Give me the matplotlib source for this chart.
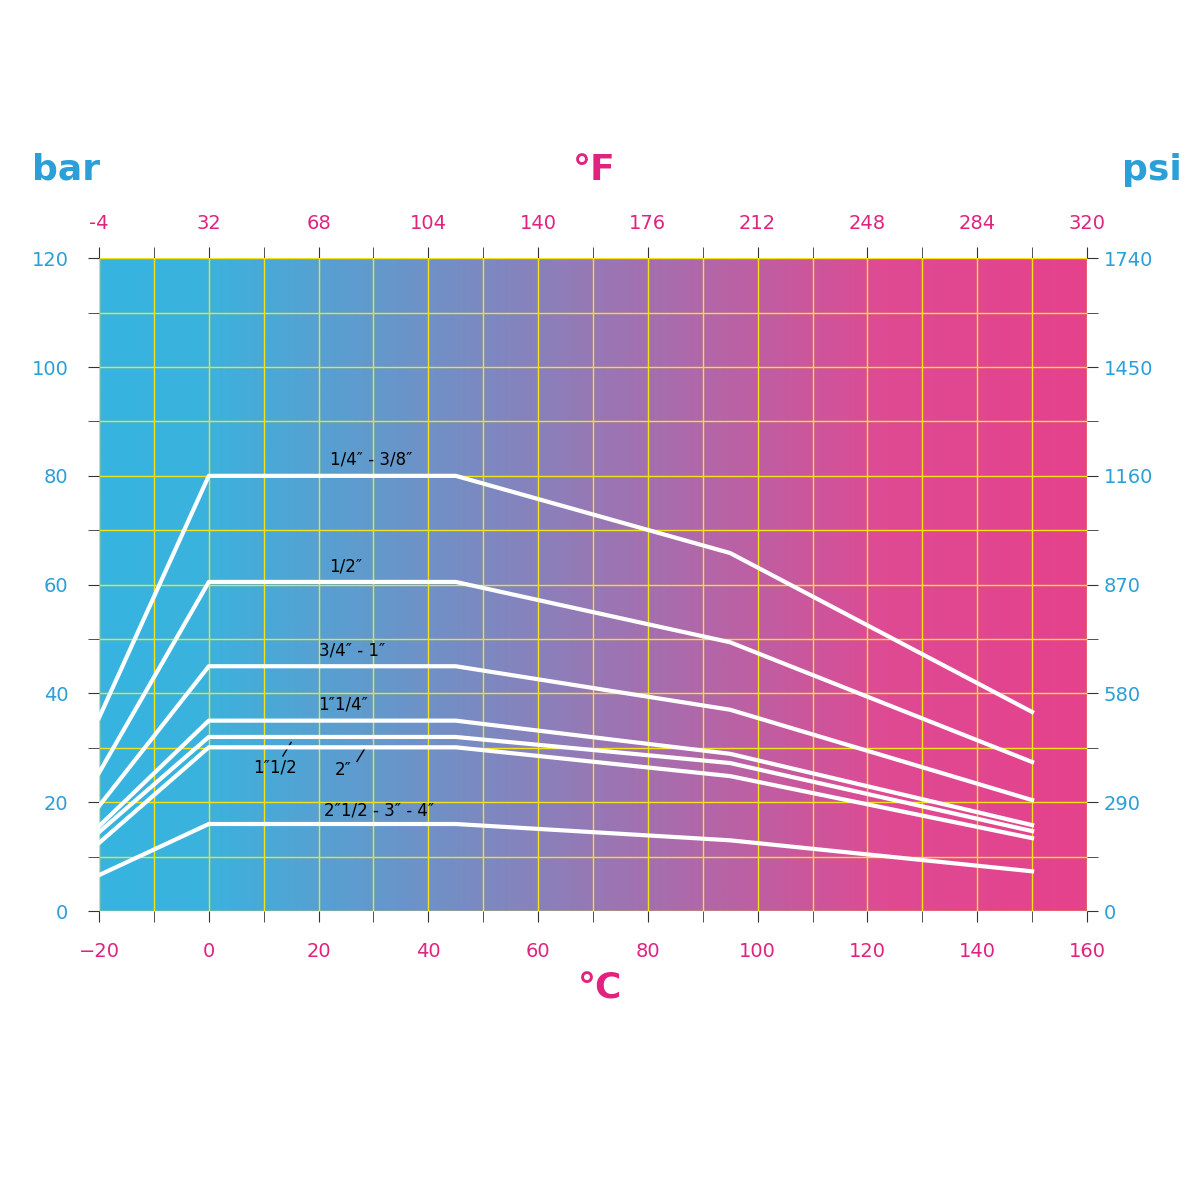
import numpy as np
import matplotlib
matplotlib.use("Agg")
import matplotlib.pyplot as plt
from matplotlib.colors import LinearSegmentedColormap

Blue = "#2a9fd8"
Pink = "#e0237f"

TempC = [-20, 0, 45, 95, 150]
Series = {
    "1/4\u2033 - 3/8\u2033": [35.5, 80, 80, 65.8, 36.6],
    "1/2\u2033": [25.4, 60.5, 60.5, 49.4, 27.4],
    "3/4\u2033 - 1\u2033": [19.3, 45, 45, 37, 20.4],
    "1\u20331/4\u2033": [15.6, 35, 35, 28.9, 15.8],
    "1\u20331/2": [14.5, 32, 32, 27.2, 14.7],
    "2\u2033": [12.5, 30.1, 30.1, 24.8, 13.4],
    "2\u20331/2 - 3\u2033 - 4\u2033": [6.6, 16, 16, 13, 7.3],
}
LabelPos = {
    "1/4\u2033 - 3/8\u2033": (22, 82),
    "1/2\u2033": (22, 62.5),
    "3/4\u2033 - 1\u2033": (20, 47),
    "1\u20331/4\u2033": (20, 37),
    "1\u20331/2": (8, 25.5),
    "2\u2033": (23, 25),
    "2\u20331/2 - 3\u2033 - 4\u2033": (21, 17.5),
}
CTicks = list(range(-20, 161, 20))
FTicks = ["-4", "32", "68", "104", "140", "176", "212", "248", "284", "320"]
BarTicks = list(range(0, 121, 20))
PsiTicks = ["0", "290", "580", "870", "1160", "1450", "1740"]

Fig = plt.figure(figsize=(12, 12), dpi=100)
Ax = Fig.add_axes([0.0825, 0.2408, 0.8233, 0.544])

Cmap = LinearSegmentedColormap.from_list(
    "bg", [(0, "#37b4e0"), (0.1, "#3ab3de"), (0.45, "#8a80bb"),
           (0.8, "#df4a93"), (1, "#e5428c")])
Ax.imshow(np.linspace(0, 1, 500).reshape(1, -1), cmap=Cmap, aspect="auto",
          extent=[-20, 160, 0, 120], zorder=0)

for X in range(-20, 161, 10):
    Ax.axvline(X, color="#f2e21a", lw=1, zorder=1)
for Y in range(0, 121, 10):
    Ax.axhline(Y, color="#f2e21a", lw=1, zorder=1)

for Name, Vals in Series.items():
    Ax.plot(TempC, Vals, color="white", lw=3, zorder=3)
    Ax.text(*LabelPos[Name], Name, fontsize=12, color="black", zorder=4)
Ax.plot([13.5, 15], [28.5, 31], color="black", lw=1)
Ax.plot([27, 28.5], [27.5, 30], color="black", lw=1)

Ax.set_xlim(-20, 160)
Ax.set_ylim(0, 120)
for S in Ax.spines.values():
    S.set_visible(False)
Ax.set_xticks(CTicks)
Ax.set_xticks(range(-20, 161, 10), minor=True)
Ax.set_yticks(BarTicks)
Ax.set_yticks(range(0, 121, 10), minor=True)
Ax.tick_params(which="both", direction="out", length=8, color="#333333")
Ax.tick_params(axis="x", colors=Pink, labelsize=14, pad=14)
Ax.tick_params(axis="y", colors=Blue, labelsize=14, pad=14)
Ax.tick_params(which="both", color="#333333")

Top = Ax.secondary_xaxis("top")
Top.set_xticks(CTicks, FTicks)
Top.set_xticks(range(-20, 161, 10), minor=True)
Top.tick_params(which="both", direction="out", length=8, color="#333333",
                labelcolor=Pink, labelsize=14, pad=10)
Top.spines["top"].set_visible(False)

Right = Ax.secondary_yaxis("right")
Right.set_yticks(BarTicks, PsiTicks)
Right.set_yticks(range(0, 121, 10), minor=True)
Right.tick_params(which="both", direction="out", length=8, color="#333333",
                  labelcolor=Blue, labelsize=14, pad=4)
Right.spines["right"].set_visible(False)

Fig.text(0.055, 0.85, "bar", color=Blue, fontsize=26, fontweight="bold", ha="center")
Fig.text(0.96, 0.85, "psi", color=Blue, fontsize=26, fontweight="bold", ha="center")
Fig.text(0.495, 0.85, "\u00b0F", color=Pink, fontsize=26, fontweight="bold", ha="center")
Fig.text(0.5, 0.168, "\u00b0C", color=Pink, fontsize=26, fontweight="bold", ha="center")

Fig.savefig("out.png", dpi=100)
